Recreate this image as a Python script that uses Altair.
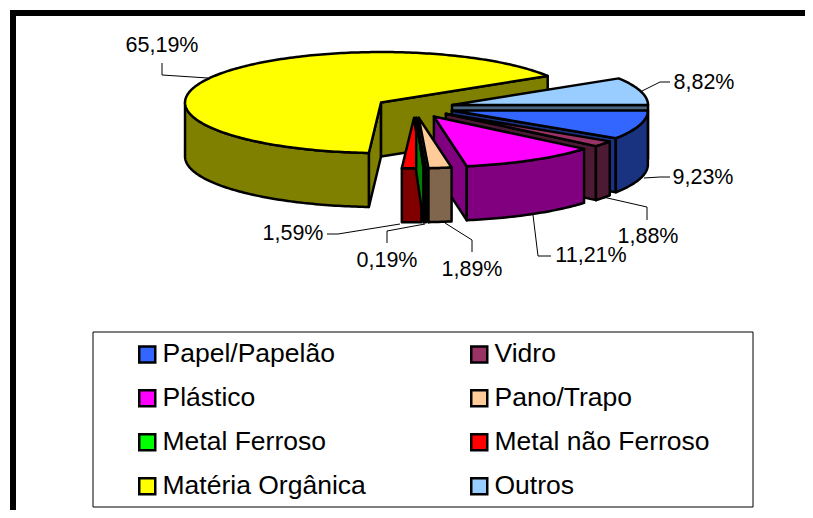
import math
import altair as alt

# ---- data ----
categories = ["Papel/Papelão", "Vidro", "Plástico", "Pano/Trapo", "Metal Ferroso",
              "Metal não Ferroso", "Matéria Orgânica", "Outros"]
values = [9.23, 1.88, 11.21, 1.89, 0.19, 1.59, 65.19, 8.82]
value_labels = ["9,23%", "1,88%", "11,21%", "1,89%", "0,19%", "1,59%", "65,19%", "8,82%"]
top_colors = ["#3366FF", "#993366", "#FF00FF", "#FFCC99", "#00FF00", "#FF0000", "#FFFF00", "#99CCFF"]
side_colors = ["#1A3380", "#4D1A33", "#800080", "#80664D", "#008000", "#800000", "#808000", "#4D6680"]

# ---- layout (page pixels) ----
W, H = 797, 502
OFF = 8
CX, CY, A, B, DEPTH, EXPLODE = 414.5, 107.7, 196.0, 50.5, 54.0, 39.0
FONT = "Liberation Sans"
paint_order = [6, 7, 0, 1, 2, 3, 5, 4]
label_pos = {
    0: (703, 177), 1: (648, 236), 2: (591, 255), 3: (472, 269),
    4: (387, 260), 5: (293, 233), 6: (162, 45), 7: (704, 82),
}
leaders = {
    0: [(644, 178), (660, 177), (670, 177)],
    1: [(603, 197), (647, 207), (647, 220)],
    2: [(533, 215), (538, 256), (551, 256)],
    3: [(445, 223), (472, 240), (472, 252)],
    4: [(425, 224), (387, 231), (387, 243)],
    5: [(400, 224), (338, 234), (327, 234)],
    6: [(208, 78), (162, 75), (162, 63)],
    7: [(640, 92), (660, 82), (670, 82)],
}

# ---- geometry derived from the values ----
total = sum(values)
starts, ends, acc = [], [], 0.0
for v in values:
    starts.append(acc / total * 360)
    acc += v
    ends.append(acc / total * 360)


def rim(cx, cy, deg, dz=0.0):
    r = math.radians(deg)
    return (cx + A * math.cos(r), cy + B * math.sin(r) + dz)


def arc(cx, cy, a0, a1, dz=0.0):
    n = max(2, int(abs(a1 - a0)) + 2)
    return [rim(cx, cy, a0 + (a1 - a0) * k / (n - 1), dz) for k in range(n)]


def feature(pts, color):
    ring = [[x - OFF, y - OFF] for x, y in pts]
    ring.append(ring[0])
    return {"type": "Feature", "geometry": {"type": "Polygon", "coordinates": [ring]},
            "properties": {"color": color}}


features, anchors = [], []
for i in paint_order:
    s, e = starts[i], ends[i]
    mid = math.radians((s + e) / 2)
    cx = CX + EXPLODE * math.cos(mid)
    cy = CY + EXPLODE * B / A * math.sin(mid)
    side, top = side_colors[i], top_colors[i]
    # radial cut faces that look towards the viewer
    if math.cos(math.radians(s)) < 0:
        p = rim(cx, cy, s)
        features.append(feature([(cx, cy), p, (p[0], p[1] + DEPTH), (cx, cy + DEPTH)], side))
    if math.cos(math.radians(e)) > 0:
        p = rim(cx, cy, e)
        features.append(feature([(cx, cy), p, (p[0], p[1] + DEPTH), (cx, cy + DEPTH)], side))
    # outer wall (front half only)
    w0, w1 = max(s, 0.0), min(e, 180.0)
    if w1 > w0:
        features.append(feature(arc(cx, cy, w0, w1) + arc(cx, cy, w1, w0, DEPTH), side))
    # top face
    features.append(feature([(cx, cy)] + arc(cx, cy, s, e), top))
    anchors.append({"cat": categories[i], "x": cx, "y": cy})

x_scale = alt.Scale(domain=[OFF, OFF + W], range=[0, W], nice=False, zero=False)
y_scale = alt.Scale(domain=[OFF + H, OFF], nice=False, zero=False)
X = lambda f: alt.X(f, type="quantitative", scale=x_scale, axis=None)
Y = lambda f: alt.Y(f, type="quantitative", scale=y_scale, axis=None)

frame_rows = [
    {"x": 10, "x2": OFF + W, "y": 10, "y2": 16},
    {"x": 10, "x2": 16, "y": 10, "y2": OFF + H},
]
frame = alt.Chart(alt.Data(values=frame_rows)).mark_rect(color="black").encode(
    x=X("x"), x2="x2", y=Y("y"), y2="y2")

box = alt.Chart(alt.Data(values=[{"x": 93, "x2": 753, "y": 332, "y2": 507}])).mark_rect(
    fill="white", stroke="black", strokeWidth=1).encode(x=X("x"), x2="x2", y=Y("y"), y2="y2")

# legend carrier: tiny points hidden below the slices
legend_layer = alt.Chart(alt.Data(values=anchors)).mark_square(size=1).encode(
    x=X("x"), y=Y("y"),
    fill=alt.Fill("cat:N", scale=alt.Scale(domain=categories, range=top_colors),
                  legend=alt.Legend(title=None, orient="none", legendX=126, legendY=333,
                                    direction="horizontal", columns=2, columnPadding=100,
                                    rowPadding=17, symbolType="square", symbolSize=256,
                                    symbolStrokeColor="black", symbolStrokeWidth=2.5,
                                    symbolOpacity=1,
                                    labelFont=FONT, labelFontSize=26.5, labelColor="black",
                                    labelOffset=2, labelLimit=400, padding=0)))

pie = alt.Chart(alt.Data(values=features)).mark_geoshape(
    stroke="black", strokeWidth=2.5, strokeJoin="round"
).encode(fill=alt.Fill("properties.color:N", scale=None)).project(
    type="identity", scale=1, translate=[0, 0])

line_rows = []
for i, pts in leaders.items():
    for k, (px, py) in enumerate(pts):
        line_rows.append({"id": i, "k": k, "x": px, "y": py})
lines = alt.Chart(alt.Data(values=line_rows)).mark_line(color="black", strokeWidth=1).encode(
    x=X("x"), y=Y("y"), detail="id:N", order="k:Q")

text_rows = [{"t": value_labels[i], "x": p[0], "y": p[1]} for i, p in label_pos.items()]
texts = alt.Chart(alt.Data(values=text_rows)).mark_text(
    font=FONT, fontSize=21.5, color="black", align="center", baseline="middle", dy=1
).encode(x=X("x"), y=Y("y"), text="t:N")

chart = alt.layer(box, legend_layer, lines, pie, texts, frame).properties(
    width=W, height=H, padding=0, background="white",
    autosize=alt.AutoSizeParams(type="none")
).configure_view(stroke=None)

chart.save("out.html", embed_options={"renderer": "svg", "actions": False})
